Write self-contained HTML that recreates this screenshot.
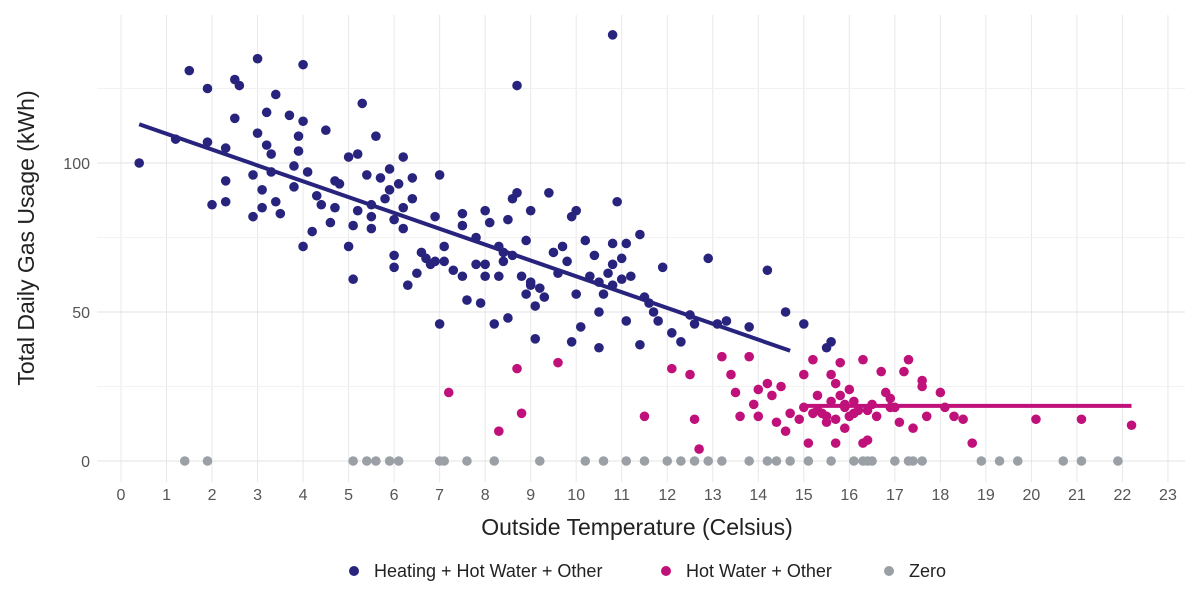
<!DOCTYPE html>
<html><head><meta charset="utf-8"><style>
html,body{margin:0;padding:0;background:#fff;}
svg{display:block;font-family:"Liberation Sans",sans-serif;}
</style></head><body>
<svg id="chart" width="1200" height="600" viewBox="0 0 1200 600"></svg>
<script>
const heatX=[0.4,1.2,1.5,1.9,1.9,2,2.3,2.3,2.3,2.5,2.5,2.6,2.9,2.9,3,3,3.1,3.1,3.2,3.2,3.3,3.3,3.4,3.4,3.5,3.7,3.8,3.8,3.9,3.9,4,4,4,4.1,4.2,4.3,4.4,4.5,4.6,4.7,4.7,4.8,5,5,5.1,5.1,5.2,5.2,5.3,5.4,5.5,5.5,5.5,5.6,5.7,5.8,5.9,5.9,6,6,6,6.1,6.2,6.2,6.2,6.3,6.4,6.4,6.5,6.6,6.7,6.8,6.9,6.9,7,7,7.1,7.1,7.3,7.5,7.5,7.5,7.6,7.8,7.8,7.9,8,8,8,8.1,8.2,8.3,8.3,8.4,8.4,8.5,8.5,8.6,8.6,8.7,8.7,8.8,8.9,8.9,9,9,9,9.1,9.1,9.2,9.3,9.4,9.5,9.6,9.7,9.8,9.9,9.9,10,10,10.1,10.2,10.3,10.4,10.5,10.5,10.5,10.6,10.7,10.8,10.8,10.8,10.8,10.9,11,11,11.1,11.1,11.2,11.4,11.4,11.5,11.6,11.7,11.8,11.9,12.1,12.3,12.5,12.6,12.9,13.1,13.3,13.8,14.2,14.6,15,15.5,15.6];
const heatY=[100,108,131,125,107,86,94,87,105,128,115,126,96,82,135,110,91,85,117,106,97,103,123,87,83,116,99,92,109,104,133,114,72,97,77,89,86,111,80,94,85,93,72,102,79,61,84,103,120,96,86,82,78,109,95,88,91,98,81,69,65,93,78,85,102,59,88,95,63,70,68,66,67,82,46,96,72,67,64,62,83,79,54,66,75,53,84,62,66,80,46,72,62,67,70,48,81,88,69,90,126,62,74,56,59,84,60,52,41,58,55,90,70,63,72,67,82,40,84,56,45,74,62,69,60,50,38,56,63,66,73,59,143,87,61,68,73,47,62,39,76,55,53,50,47,65,43,40,49,46,68,46,47,45,64,50,46,38,40];
const hwX=[7.2,8.3,8.7,8.8,9.6,11.5,12.1,12.5,12.6,12.7,13.2,13.4,13.5,13.6,13.8,13.9,14,14,14.2,14.3,14.4,14.5,14.6,14.7,14.9,15,15,15.1,15.2,15.3,15.4,15.5,15.6,15.6,15.7,15.7,15.8,15.9,15.9,16,16,16.1,16.2,16.3,16.3,16.4,16.5,16.6,16.7,16.8,16.9,17,17.1,17.2,17.3,17.4,17.6,17.6,17.7,18,18.1,18.3,18.5,18.7,20.1,21.1,22.2,15.3,15.5,15.7,15.8,16.1,16.4,16.9,15.2,15.9];
const hwY=[23,10,31,16,33,15,31,29,14,4,35,29,23,15,35,19,24,15,26,22,13,25,10,16,14,29,18,6,34,22,16,13,20,29,6,26,33,18,11,24,15,20,17,34,6,7,19,15,30,23,21,18,13,30,34,11,25,27,15,23,18,15,14,6,14,14,12,17,15,14,22,16,17,18,16,19];
const zeroX=[1.4,1.9,5.1,5.4,5.6,5.9,6.1,7,7.1,7.6,8.2,9.2,10.2,10.6,11.1,11.5,12,12.3,12.6,12.9,13.2,13.8,14.2,14.4,14.7,15.1,15.6,16.1,16.3,16.4,16.5,17,17.3,17.4,17.6,18.9,19.3,19.7,20.7,21.1,21.9];
const heatFit=[[0.4,113],[14.7,37]];
const hwFit=[[15,18.5],[22.2,18.5]];
const xTicks=[0,1,2,3,4,5,6,7,8,9,10,11,12,13,14,15,16,17,18,19,20,21,22,23];
const yTicks=[0,50,100];
const yMinor=[25,75,125];

const NS="http://www.w3.org/2000/svg";
const svg=document.getElementById('chart');
const X=v=>121+v*45.52, Y=v=>461-v*2.98;
const L=97,R=1185,T=15,B=482;
function mk(tag,a,parent){const e=document.createElementNS(NS,tag);for(const k in a)e.setAttribute(k,a[k]);(parent||svg).appendChild(e);return e;}
const grid=mk('g',{});


for(const t of xTicks){mk('line',{x1:X(t),x2:X(t),y1:T,y2:B,stroke:'#e8e8e8','stroke-width':1},grid);
 const lb=mk('text',{x:X(t),y:500,'text-anchor':'middle','font-size':16,fill:'#555'});lb.textContent=t;
 
 }
for(const t of yMinor){mk('line',{x1:L,x2:R,y1:Y(t),y2:Y(t),stroke:'#f2f2f2','stroke-width':1},grid);}
for(const t of yTicks){mk('line',{x1:L,x2:R,y1:Y(t),y2:Y(t),stroke:'#e3e3e3','stroke-width':1},grid);
 const lb=mk('text',{x:90,y:Y(t)+6,'text-anchor':'end','font-size':16,fill:'#555'});lb.textContent=t;
 
 }
function pts(xs,ys,col,name){const g=mk('g',{fill:col});
 
 
 xs.forEach((x,i)=>{const c=mk('circle',{cx:X(x),cy:Y(ys?ys[i]:0),r:4.8},g);
  
  });}
pts(zeroX,null,'#9aa0a6','zero-series');
pts(hwX,hwY,'#c0117a','hot-water-series');
pts(heatX,heatY,'#28247d','heating-series');
const f1=mk('line',{x1:X(heatFit[0][0]),y1:Y(heatFit[0][1]),x2:X(heatFit[1][0]),y2:Y(heatFit[1][1]),stroke:'#28247d','stroke-width':4});


const f2=mk('line',{x1:X(hwFit[0][0]),y1:Y(hwFit[0][1]),x2:X(hwFit[1][0]),y2:Y(hwFit[1][1]),stroke:'#c0117a','stroke-width':4});


const xt=mk('text',{x:637,y:535,'text-anchor':'middle','font-size':23,fill:'#222'});xt.textContent='Outside Temperature (Celsius)';


const yt=mk('text',{x:0,y:0,transform:'translate(34,238) rotate(-90)','text-anchor':'middle','font-size':23,fill:'#222'});yt.textContent='Total Daily Gas Usage (kWh)';


const leg=[[354,'#28247d','Heating + Hot Water + Other'],[666,'#c0117a','Hot Water + Other'],[889,'#9aa0a6','Zero']];
for(const [x,c,t] of leg){const g=mk('g',{});
 
 
 mk('circle',{cx:x,cy:571,r:5,fill:c},g);
 const tx=mk('text',{x:x+20,y:577,'font-size':18,fill:'#222'},g);tx.textContent=t;}
</script>
</body></html>
